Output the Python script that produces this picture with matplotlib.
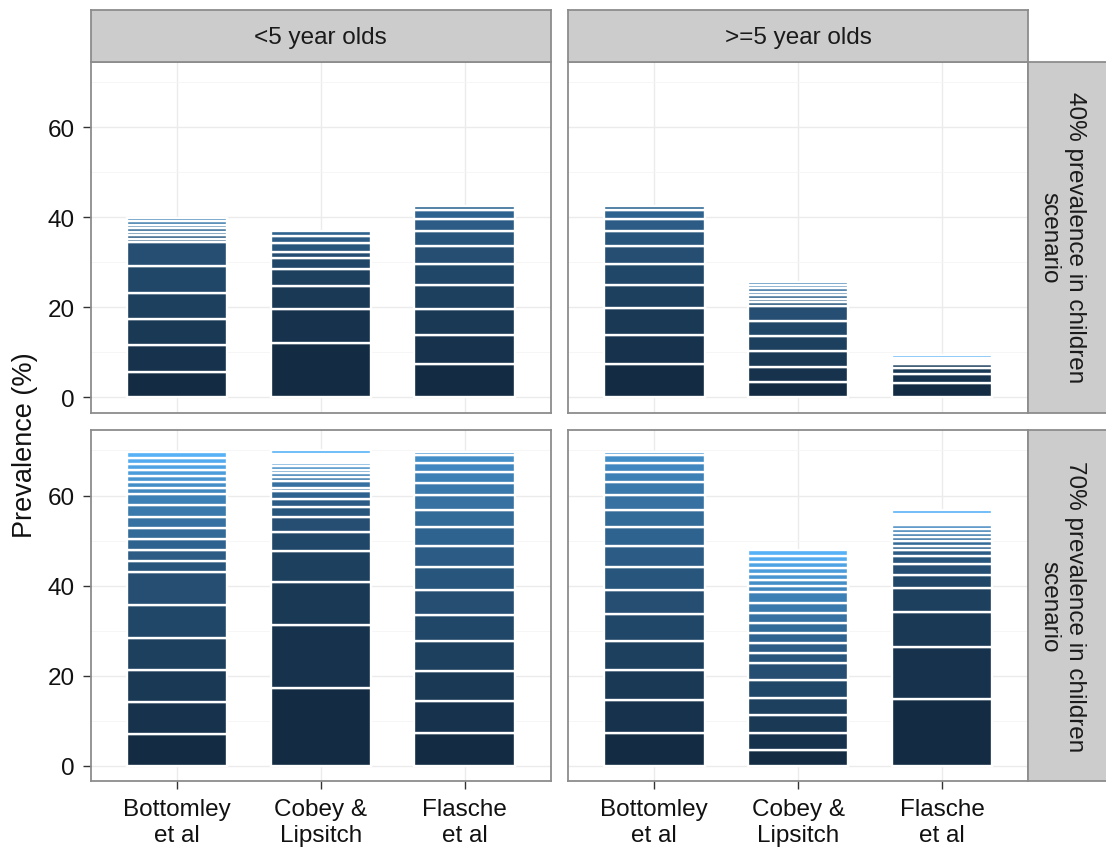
import matplotlib
matplotlib.use("Agg")
import matplotlib.pyplot as plt
from matplotlib.colors import LinearSegmentedColormap

plt.rcParams['font.family'] = ['Liberation Sans', 'DejaVu Sans']

# Facet levels
models = ["Bottomley\net al", "Cobey &\nLipsitch", "Flasche\net al"]
age_groups = ["<5 year olds", ">=5 year olds"]
scenarios = ["40% prevalence in children\nscenario", "70% prevalence in children\nscenario"]

# Serotype prevalence (%) per model, stacked from the bottom up
# 40% scenario, <5 year olds
s40_u5_bottomley = [5.73, 5.80, 5.88, 5.80, 5.88, 5.43, 0.75, 0.80, 0.75, 0.80, 0.75, 0.80, 0.75]
s40_u5_cobey = [12.05, 7.65, 5.10, 3.80, 2.30, 1.30, 2.00, 1.70, 1.15]
s40_u5_flasche = [7.37, 6.47, 5.88, 5.28, 4.54, 4.16, 3.28, 2.68, 1.86, 1.04]
# 40% scenario, >=5 year olds
s40_o5_bottomley = [7.37, 6.45, 5.95, 5.25, 4.55, 4.15, 3.30, 2.60, 1.90, 1.05]
s40_o5_cobey = [3.35, 3.35, 3.50, 3.40, 3.40, 3.40, 0.75, 0.75, 0.80, 0.75, 0.75, 0.75, 0.75]
s40_o5_flasche = [3.20, 1.95, 1.30, 1.05, 0.08, 0.08, 0.08, 0.08, 0.08, 0.08, 0.08, 0.08,
                  0.08, 0.08, 0.08, 0.08, 0.08, 0.08, 0.08, 0.80]
# 70% scenario, <5 year olds
s70_u5_bottomley = [7.10, 7.05, 7.15, 7.15, 7.20, 7.30, 2.45, 2.45, 2.45, 2.50, 2.50, 2.50,
                    2.45, 1.35, 1.30, 1.40, 1.30, 1.35, 1.35, 1.30]
s70_u5_cobey = [17.26, 13.92, 9.67, 6.77, 4.24, 3.42, 2.09, 1.78, 1.79, 0.82, 1.48, 0.97,
                0.82, 0.67, 0.90, 0.70, 0.62, 0.62, 0.62, 0.85]
s70_u5_flasche = [7.37, 7.06, 6.70, 6.47, 5.80, 5.59, 5.21, 4.50, 4.40, 3.60, 3.34, 2.83,
                  2.46, 1.97, 1.60, 0.80]
# 70% scenario, >=5 year olds
s70_o5_bottomley = [7.37, 7.13, 6.70, 6.40, 6.00, 5.50, 5.00, 4.70, 4.30, 3.70, 3.30, 2.80,
                    2.40, 2.00, 1.70, 0.70]
s70_o5_cobey = [3.50, 3.87, 3.83, 3.90, 3.90, 3.80, 2.30, 2.20, 2.20, 2.30, 2.20, 2.20, 2.30,
                1.50, 1.30, 1.30, 1.20, 1.40, 1.40, 1.20]
s70_o5_flasche = [14.85, 11.55, 7.80, 5.20, 2.90, 2.60, 1.60, 1.40, 1.00, 1.10, 0.80, 0.90,
                  0.90, 0.80, 0.52, 0.52, 0.52, 0.52, 0.52, 0.80]

panels = [
    [[s40_u5_bottomley, s40_u5_cobey, s40_u5_flasche],
     [s40_o5_bottomley, s40_o5_cobey, s40_o5_flasche]],
    [[s70_u5_bottomley, s70_u5_cobey, s70_u5_flasche],
     [s70_o5_bottomley, s70_o5_cobey, s70_o5_flasche]],
]
n_serotypes = 20
# slivers thinner than this disappear under the white outline
min_visible = 0.65

cmap = LinearSegmentedColormap.from_list("serotype", ["#132B43", "#56B1F7"])

W, H = 1106, 854
fig = plt.figure(figsize=(W / 100, H / 100), dpi=100)

border_col = "#8C8C8C"
panel_x = [90.7, 568.0]
panel_w = 460.3
panel_y = [62.7, 431.0]
panel_h = 350.8


def fig_rect(x, y, w, h):
    return [x / W, 1 - (y + h) / H, w / W, h / H]


for r in range(2):
    for c in range(2):
        ax = fig.add_axes(fig_rect(panel_x[c], panel_y[r], panel_w, panel_h))
        ax.set_xlim(-0.6, 2.6)
        ax.set_ylim(-3.35, 74.55)
        ax.set_axisbelow(True)
        ax.set_yticks([0, 20, 40, 60])
        ax.set_yticks([10, 30, 50, 70], minor=True)
        ax.set_xticks(range(len(models)))
        ax.grid(True, which="major", color="#EBEBEB", linewidth=1.0)
        ax.grid(True, which="minor", axis="y", color="#F5F5F5", linewidth=0.6)
        for sp in ax.spines.values():
            sp.set_color(border_col)
            sp.set_linewidth(1.3)

        for j, vals in enumerate(panels[r][c]):
            bottom = 0.0
            for i, v in enumerate(vals):
                fill = cmap(i / (n_serotypes - 1)) if v >= min_visible else "white"
                ax.bar(j, v, bottom=bottom, width=0.7, color=fill,
                       edgecolor="white", linewidth=1.7, zorder=3)
                bottom += v

        ax.tick_params(which="minor", length=0)
        ax.tick_params(which="major", length=5.8, width=1.0, color="#333333",
                       labelsize=17.5, labelcolor="#111111", pad=5.5)
        if c == 0:
            ax.set_yticklabels(["0", "20", "40", "60"])
        else:
            ax.tick_params(axis="y", length=0, labelleft=False)
        if r == 1:
            ax.set_xticklabels(models, linespacing=1.25)
            ax.tick_params(axis="x", pad=6.5)
        else:
            ax.tick_params(axis="x", length=0, labelbottom=False)

        # column strip on top row
        if r == 0:
            sax = fig.add_axes(fig_rect(panel_x[c], 11.0, panel_w, 51.7))
            sax.set_facecolor("#CCCCCC")
            sax.set_xticks([])
            sax.set_yticks([])
            for sp in sax.spines.values():
                sp.set_color(border_col)
                sp.set_linewidth(1.3)
            sax.text(0.5, 0.48, age_groups[c], ha="center", va="center",
                     fontsize=17.5, color="#1A1A1A", transform=sax.transAxes)

    # row strip on the right
    rax = fig.add_axes(fig_rect(1028.3, panel_y[r], 80, panel_h))
    rax.set_facecolor("#CCCCCC")
    rax.set_xticks([])
    rax.set_yticks([])
    for sp in rax.spines.values():
        sp.set_color(border_col)
        sp.set_linewidth(1.3)
    rax.text(0.42, 0.5, scenarios[r], ha="center", va="center", rotation=-90,
             fontsize=17.5, color="#1A1A1A", linespacing=1.2,
             multialignment="center", transform=rax.transAxes)

fig.text(25 / W, 1 - 445 / H, "Prevalence (%)", rotation=90, ha="center",
         va="center", fontsize=19.5, color="#111111")

fig.savefig("out.png", dpi=100, facecolor="white")
